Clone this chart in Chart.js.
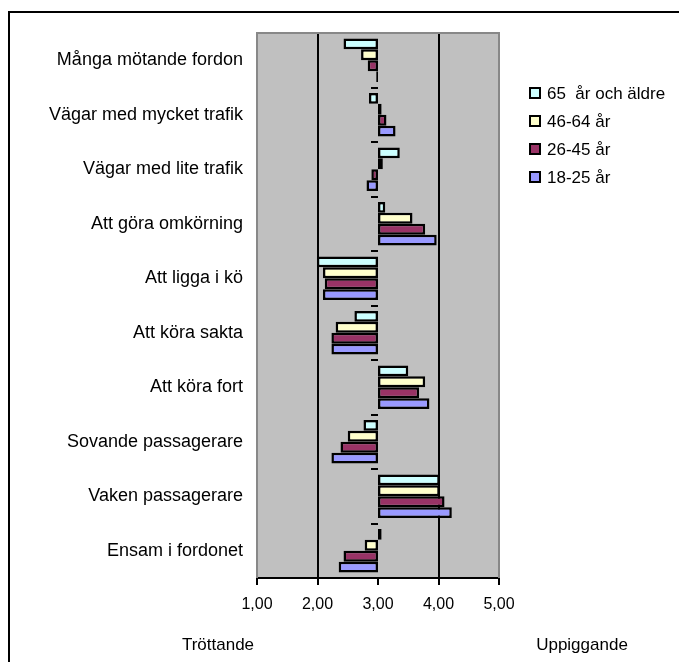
<!DOCTYPE html>
<html>
<head>
<meta charset="utf-8">
<script src="https://cdn.jsdelivr.net/npm/chart.js@4/dist/chart.umd.min.js"></script>
<style>
  html, body { margin: 0; padding: 0; background: #fff; }
  #wrap { position: relative; width: 679px; height: 662px; }
</style>
</head>
<body>
<div id="wrap"><canvas id="c"></canvas></div>
<script>
// Situations rated from tiring (1) to invigorating (5), per age group
const categories = [
  'Många mötande fordon',
  'Vägar med mycket trafik',
  'Vägar med lite trafik',
  'Att göra omkörning',
  'Att ligga i kö',
  'Att köra sakta',
  'Att köra fort',
  'Sovande passagerare',
  'Vaken passagerare',
  'Ensam i fordonet'
];
const seriesNames = ['65  år och äldre', '46-64 år', '26-45 år', '18-25 år'];
const age65plus = [2.43, 2.85, 3.36, 3.12, 1.99, 2.61, 3.50, 2.76, 4.02, 3.06];
const age46to64 = [2.72, 3.06, 3.08, 3.57, 2.09, 2.30, 3.78, 2.50, 4.02, 2.78];
const age26to45 = [2.83, 3.14, 2.89, 3.78, 2.12, 2.23, 3.68, 2.38, 4.10, 2.43];
const age18to25 = [2.97, 3.29, 2.81, 3.97, 2.09, 2.23, 3.85, 2.23, 4.22, 2.35];
const seriesColors = ['#CCFFFF', '#FFFFCC', '#993366', '#9999FF'];
const baseline = 3;
const xTickValues = [1, 2, 3, 4, 5];
const scaleLeftLabel = 'Tröttande';
const scaleRightLabel = 'Uppiggande';

const FONT = "'Liberation Sans', Arial, sans-serif";
const seriesValues = [age65plus, age46to64, age26to45, age18to25];

const datasets = seriesValues.map((vals, i) => ({
  label: seriesNames[i],
  data: vals.map(v => [baseline, v]),
  backgroundColor: seriesColors[i],
  borderColor: '#000',
  borderWidth: 2.5,
  borderSkipped: false,
  categoryPercentage: 0.8,
  barPercentage: 1.0
}));

const decorations = {
  id: 'decorations',
  beforeDraw(chart) {
    const { ctx, chartArea: a } = chart;
    ctx.save();
    ctx.fillStyle = '#C0C0C0';
    ctx.fillRect(a.left, a.top, a.right - a.left, a.bottom - a.top);
    ctx.restore();
  },
  afterDatasetsDraw(chart) {
    const { ctx, chartArea: a, scales } = chart;
    const x3 = scales.x.getPixelForValue(baseline);
    const n = categories.length;
    const step = (a.bottom - a.top) / n;
    ctx.save();
    ctx.strokeStyle = '#000';
    ctx.lineWidth = 2;
    // category divisions marked on the 3,00 line
    for (let i = 0; i <= n - 1; i++) {
      const y = Math.round(a.top + i * step);
      ctx.beginPath();
      ctx.moveTo(x3 - 7, y);
      ctx.lineTo(x3, y);
      ctx.stroke();
    }
    // plot frame (top, left, right)
    ctx.strokeStyle = '#888';
    ctx.lineWidth = 2;
    ctx.beginPath();
    ctx.moveTo(a.left, a.bottom);
    ctx.lineTo(a.left, a.top);
    ctx.lineTo(a.right, a.top);
    ctx.lineTo(a.right, a.bottom);
    ctx.stroke();
    ctx.restore();
  },
  afterDraw(chart) {
    const { ctx } = chart;
    ctx.save();
    // outer frame
    ctx.fillStyle = '#000';
    ctx.fillRect(8, 11, 2, 662);
    ctx.fillRect(8, 11, 679, 2);
    // legend
    ctx.font = '17px ' + FONT;
    ctx.textBaseline = 'middle';
    ctx.textAlign = 'left';
    const ys = [93, 121, 149, 177];
    seriesNames.forEach((name, i) => {
      const y = ys[i];
      ctx.fillStyle = seriesColors[i];
      ctx.fillRect(530, y - 5, 10, 10);
      ctx.strokeStyle = '#000';
      ctx.lineWidth = 2;
      ctx.strokeRect(530, y - 5, 10, 10);
      ctx.fillStyle = '#000';
      ctx.fillText(name, 547, y + 1);
    });
    // scale end descriptions
    ctx.textAlign = 'center';
    ctx.fillText(scaleLeftLabel, 218, 645);
    ctx.fillText(scaleRightLabel, 582, 645);
    ctx.restore();
  }
};

new Chart(document.getElementById('c'), {
  type: 'bar',
  data: { labels: categories, datasets },
  options: {
    indexAxis: 'y',
    responsive: true,
    maintainAspectRatio: false,
    animation: false,
    layout: { padding: { left: 0, right: 180, top: 33, bottom: 0 } },
    plugins: { legend: { display: false }, tooltip: { enabled: false } },
    scales: {
      x: {
        min: 1,
        max: 5,
        afterBuildTicks: s => { s.ticks = xTickValues.map(v => ({ value: v })); },
        afterFit: s => { s.height = 662 - 578; },
        ticks: {
          callback: v => Number(v).toFixed(2).replace('.', ','),
          font: { family: FONT, size: 16 },
          color: '#000',
          padding: 10,
          maxRotation: 0
        },
        grid: {
          color: c => (c.tick && (c.tick.value === 2 || c.tick.value === 4)) ? '#000' : 'rgba(0,0,0,0)',
          lineWidth: 2,
          tickLength: 7,
          tickColor: '#000',
          tickWidth: 2
        },
        border: { display: true, color: '#000', width: 2 }
      },
      y: {
        afterFit: s => { s.width = 257; },
        ticks: {
          font: { family: FONT, size: 18 },
          color: '#000',
          padding: 6
        },
        grid: { display: false },
        border: { display: false }
      }
    }
  },
  plugins: [decorations]
});
</script>
</body>
</html>
